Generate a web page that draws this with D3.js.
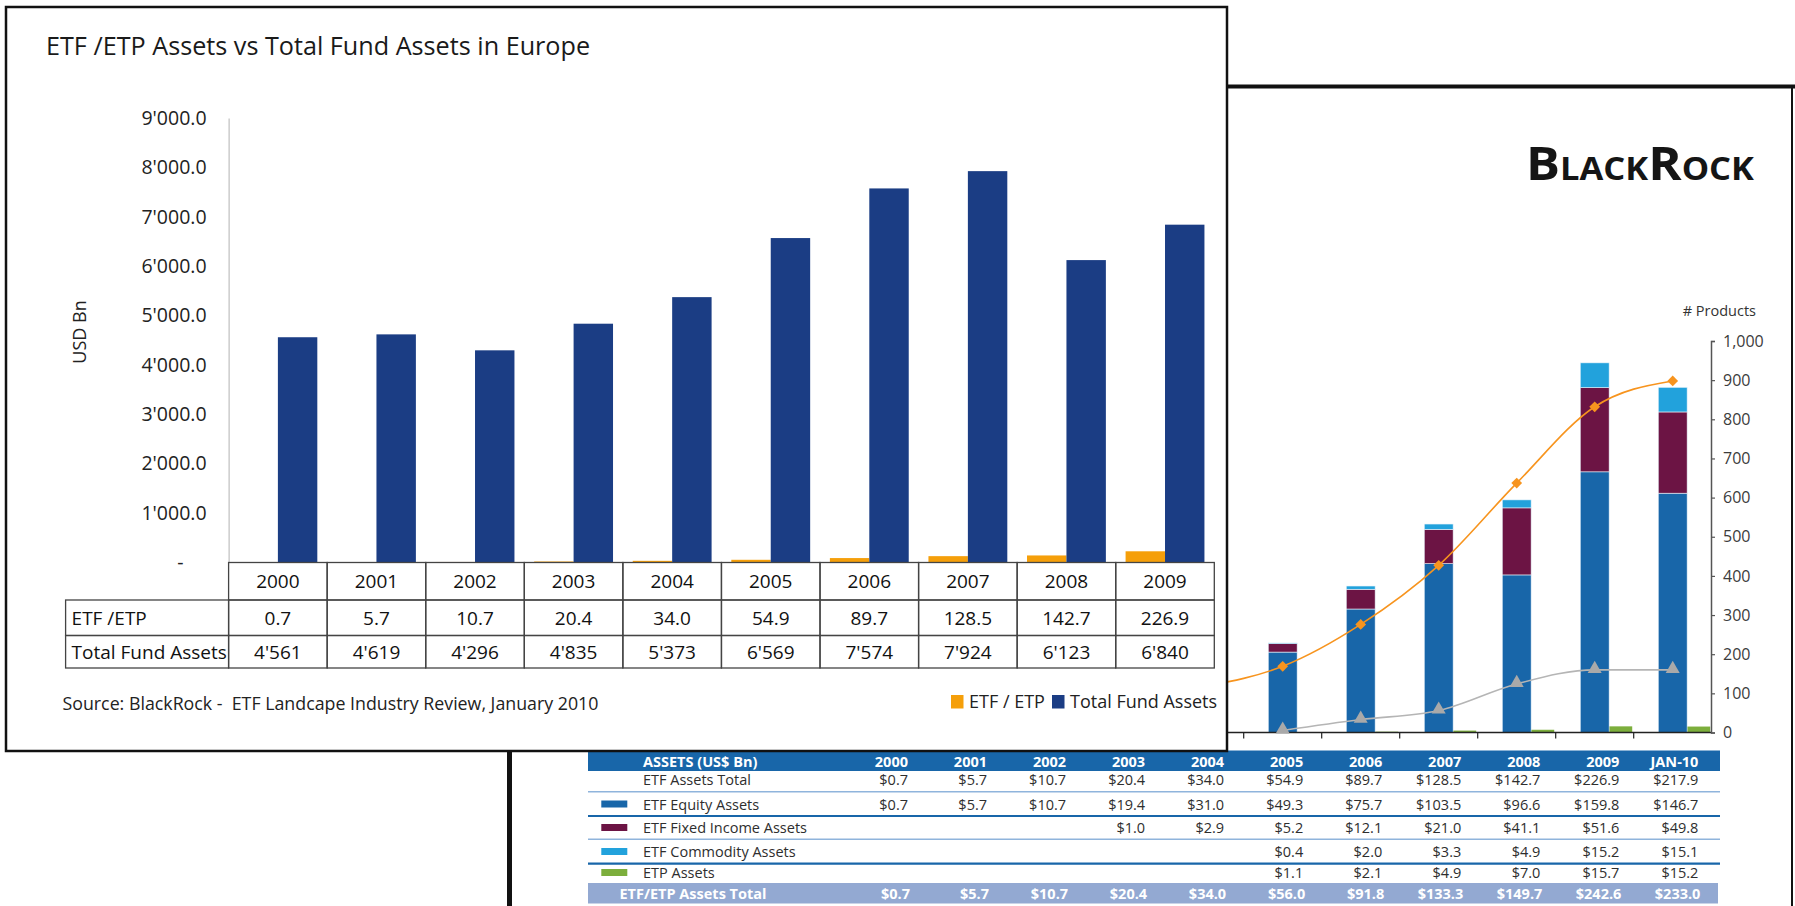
<!DOCTYPE html>
<html>
<head>
<meta charset="utf-8">
<script src="https://cdn.jsdelivr.net/npm/d3@7"></script>
<style>
  html, body { margin: 0; padding: 0; background: #fff; }
  svg { display: block; font-family: "Open Sans", "Noto Sans", sans-serif; }
</style>
</head>
<body>
<div id="chart"></div>
<script>
// ---- front chart: Europe ----
var years = ["2000", "2001", "2002", "2003", "2004", "2005", "2006", "2007", "2008", "2009"];
var etfEtpAssets = [0.7, 5.7, 10.7, 20.4, 34.0, 54.9, 89.7, 128.5, 142.7, 226.9];
var totalFundAssets = [4561, 4619, 4296, 4835, 5373, 6569, 7574, 7924, 6123, 6840];
var usdTicks = [0, 1000, 2000, 3000, 4000, 5000, 6000, 7000, 8000, 9000];

// ---- BlackRock page behind it ----
var brPeriods = ["2000", "2001", "2002", "2003", "2004", "2005", "2006", "2007", "2008", "2009", "JAN-10"];
var brEtfTotal = [0.7, 5.7, 10.7, 20.4, 34.0, 54.9, 89.7, 128.5, 142.7, 226.9, 217.9];
var brEquity = [0.7, 5.7, 10.7, 19.4, 31.0, 49.3, 75.7, 103.5, 96.6, 159.8, 146.7];
var brFixedIncome = [null, null, null, 1.0, 2.9, 5.2, 12.1, 21.0, 41.1, 51.6, 49.8];
var brCommodity = [null, null, null, null, null, 0.4, 2.0, 3.3, 4.9, 15.2, 15.1];
var brEtp = [null, null, null, null, null, 1.1, 2.1, 4.9, 7.0, 15.7, 15.2];
var brAllTotal = [0.7, 5.7, 10.7, 20.4, 34.0, 56.0, 91.8, 133.3, 149.7, 242.6, 233.0];
// # products lines (2000-2004 are hidden under the front chart, rough guesses)
var brEtfCount = [10, 40, 70, 95, 118, 169, 276, 427, 637, 832, 898];
var brEtpCount = [null, null, null, null, null, 5, 33, 56, 124, 160, 160];
var productTicks = [0, 100, 200, 300, 400, 500, 600, 700, 800, 900, 1000];

var width = 1795, height = 906;

var svg = d3.select("#chart")
    .append("svg")
    .attr("width", width)
    .attr("height", height);

var quoteLocale = d3.formatLocale({decimal: ".", thousands: "'", grouping: [3], currency: ["", ""]});

// =========== background page ===========
var back = svg.append("g").attr("class", "back");

// page frame
back.append("line").attr("x1", 507).attr("x2", width).attr("y1", 86.5).attr("y2", 86.5)
    .attr("stroke", "#111").attr("stroke-width", 4);
back.append("line").attr("x1", 1792).attr("x2", 1792).attr("y1", 85).attr("y2", height)
    .attr("stroke", "#111").attr("stroke-width", 2);
back.append("line").attr("x1", 509.5).attr("x2", 509.5).attr("y1", 85).attr("y2", height)
    .attr("stroke", "#111").attr("stroke-width", 5);

// logo
var logo = back.append("text")
    .attr("fill", "#151515")
    .style("font-weight", 700);
[["B", 47], ["LACK", 32], ["R", 47], ["OCK", 32]].forEach(function (p) {
    logo.append("tspan").style("font-size", p[1] + "px").text(p[0]);
});
var logoW = logo.node().getComputedTextLength();
logo.attr("transform", "translate(1526,180) scale(" + (228 / logoW) + ",1)");

var brColors = {equity: "#1866a9", fixed: "#6c1444", commodity: "#22a2dc", etp: "#7cae3c"};

var xb = d3.scaleBand().domain(brPeriods).range([853.7, 1711.7]);
var yAssets = d3.scaleLinear().domain([0, 240]).range([732.5, 341]);
var yProducts = d3.scaleLinear().domain([0, 1000]).range([732.5, 341]);
var barW = xb.bandwidth() * 0.37;
var mid = function (c) { return xb(c) + xb.bandwidth() / 2; };

var stackRows = brPeriods.map(function (c, i) {
    return {period: c, equity: brEquity[i] || 0, fixed: brFixedIncome[i] || 0, commodity: brCommodity[i] || 0};
});
var stacked = d3.stack().keys(["equity", "fixed", "commodity"])(stackRows);

// ETP bars sit next to the stack (they follow the products axis in the original)
back.append("g").selectAll("rect")
    .data(brPeriods.map(function (c, i) { return {period: c, v: brEtp[i] || 0}; }))
    .enter().append("rect")
    .attr("x", function (d) { return mid(d.period) + barW * 0.3; })
    .attr("width", barW)
    .attr("y", function (d) { return yProducts(d.v); })
    .attr("height", function (d) { return yProducts(0) - yProducts(d.v); })
    .attr("fill", brColors.etp);

back.append("g").selectAll("g")
    .data(stacked)
    .enter().append("g")
    .attr("fill", function (d) { return brColors[d.key]; })
    .selectAll("rect")
    .data(function (d) { return d; })
    .enter().append("rect")
    .attr("x", function (d) { return mid(d.data.period) - barW / 2; })
    .attr("width", barW)
    .attr("y", function (d) { return yAssets(d[1]); })
    .attr("height", function (d) { return yAssets(d[0]) - yAssets(d[1]); })
    .attr("stroke", "#eaf3fa")
    .attr("stroke-width", 0.6);

// x baseline with ticks between periods
back.append("line")
    .attr("x1", 560).attr("x2", 1711.7)
    .attr("y1", yAssets(0)).attr("y2", yAssets(0))
    .attr("stroke", "#222").attr("stroke-width", 1.5);
back.append("g").selectAll("line")
    .data(brPeriods)
    .enter().append("line")
    .attr("x1", function (d) { return xb(d); })
    .attr("x2", function (d) { return xb(d); })
    .attr("y1", yAssets(0)).attr("y2", yAssets(0) + 6)
    .attr("stroke", "#222").attr("stroke-width", 1.2);

// product count lines
var productLine = d3.line()
    .defined(function (d) { return d.v != null; })
    .x(function (d) { return mid(d.period); })
    .y(function (d) { return yProducts(d.v); })
    .curve(d3.curveMonotoneX);

var etfPts = brPeriods.map(function (c, i) { return {period: c, v: brEtfCount[i]}; });
var etpPts = brPeriods.map(function (c, i) { return {period: c, v: brEtpCount[i]}; });

back.append("path").datum(etpPts)
    .attr("d", productLine)
    .attr("fill", "none").attr("stroke", "#b5b5b5").attr("stroke-width", 1.6);
back.append("path").datum(etfPts)
    .attr("d", productLine)
    .attr("fill", "none").attr("stroke", "#f7941e").attr("stroke-width", 1.6);

back.append("g").selectAll("path")
    .data(etpPts.filter(function (d) { return d.v != null; }))
    .enter().append("path")
    .attr("d", d3.symbol().type(d3.symbolTriangle).size(85))
    .attr("transform", function (d) { return "translate(" + mid(d.period) + "," + (yProducts(d.v) - 1) + ")"; })
    .attr("fill", "#a9a9a9");
back.append("g").selectAll("path")
    .data(etfPts)
    .enter().append("path")
    .attr("d", d3.symbol().type(d3.symbolSquare).size(58))
    .attr("transform", function (d) { return "translate(" + mid(d.period) + "," + yProducts(d.v) + ") rotate(45)"; })
    .attr("fill", "#f7941e");

// right axis
var rightAxis = back.append("g")
    .attr("transform", "translate(1711,0)")
    .call(d3.axisRight(yProducts).tickValues(productTicks).tickSize(4).tickSizeOuter(4).tickPadding(8).tickFormat(d3.format(",")));
rightAxis.select(".domain").attr("stroke", "#555").attr("stroke-width", 1.5);
rightAxis.selectAll(".tick line").attr("stroke", "#555").attr("stroke-width", 1.2);
rightAxis.selectAll(".tick text")
    .attr("fill", "#3c3c3c")
    .style("font-size", "16px")
    .style("font-family", "\"Open Sans\", sans-serif");

back.append("text")
    .attr("x", 1756).attr("y", 316)
    .attr("text-anchor", "end")
    .attr("fill", "#333")
    .style("font-size", "14.5px")
    .text("# Products");

// data table under the chart
var xt = d3.scalePoint().domain(brPeriods).range([908, 1698.4]);
var tableLeft = 588, tableRight = 1720;
var fmtUsd = function (v) { return v == null ? "" : "$" + d3.format(".1f")(v); };

back.append("rect")
    .attr("x", tableLeft).attr("y", 750.5)
    .attr("width", tableRight - tableLeft).attr("height", 20.5)
    .attr("fill", "#1866a9");
back.append("text")
    .attr("x", 643).attr("y", 766.5)
    .attr("fill", "#fff").style("font-size", "14.5px").style("font-weight", 700)
    .text("ASSETS (US$ Bn)");
back.append("g").selectAll("text")
    .data(brPeriods)
    .enter().append("text")
    .attr("x", function (d) { return xt(d); })
    .attr("y", 766.5)
    .attr("text-anchor", "end")
    .attr("fill", "#fff").style("font-size", "14.5px").style("font-weight", 700)
    .text(function (d) { return d; });

var brRows = [
    {label: "ETF Assets Total", values: brEtfTotal, key: null},
    {label: "ETF Equity Assets", values: brEquity, key: "equity"},
    {label: "ETF Fixed Income Assets", values: brFixedIncome, key: "fixed"},
    {label: "ETF Commodity Assets", values: brCommodity, key: "commodity"},
    {label: "ETP Assets", values: brEtp, key: "etp"}
];
var rowBase = [785, 809.5, 833, 857, 878];
var sepLines = [{y: 791.7, c: "#8fb4dc", w: 1.6}, {y: 816, c: "#1866a9", w: 2.2},
                {y: 839.3, c: "#8fb4dc", w: 1.6}, {y: 863.6, c: "#1866a9", w: 2.2}];

back.append("g").selectAll("line")
    .data(sepLines)
    .enter().append("line")
    .attr("x1", tableLeft).attr("x2", tableRight)
    .attr("y1", function (d) { return d.y; }).attr("y2", function (d) { return d.y; })
    .attr("stroke", function (d) { return d.c; })
    .attr("stroke-width", function (d) { return d.w; });

var rowG = back.append("g").selectAll("g")
    .data(brRows)
    .enter().append("g")
    .attr("transform", function (d, i) { return "translate(0," + rowBase[i] + ")"; });

rowG.filter(function (d) { return d.key; })
    .append("rect")
    .attr("x", 601.3).attr("y", -9).attr("width", 26).attr("height", 7)
    .attr("fill", function (d) { return brColors[d.key]; });

rowG.append("text")
    .attr("x", 643)
    .attr("fill", "#2e2e2e").style("font-size", "14.5px")
    .text(function (d) { return d.label; });

rowG.selectAll(".val")
    .data(function (d) { return d.values.map(function (v, i) { return {period: brPeriods[i], v: v}; }); })
    .enter().append("text")
    .attr("class", "val")
    .attr("x", function (d) { return xt(d.period); })
    .attr("text-anchor", "end")
    .attr("fill", "#2e2e2e").style("font-size", "14.5px")
    .text(function (d) { return fmtUsd(d.v); });

back.append("rect")
    .attr("x", tableLeft).attr("y", 883)
    .attr("width", tableRight - 2 - tableLeft).attr("height", 20.5)
    .attr("fill", "#93a9d2");
back.append("text")
    .attr("x", 619.5).attr("y", 898.5)
    .attr("fill", "#fff").style("font-size", "14.5px").style("font-weight", 700)
    .text("ETF/ETP Assets Total");
back.append("g").selectAll("text")
    .data(brAllTotal)
    .enter().append("text")
    .attr("x", function (d, i) { return xt(brPeriods[i]) + 2; })
    .attr("y", 898.5)
    .attr("text-anchor", "end")
    .attr("fill", "#fff").style("font-size", "14.5px").style("font-weight", 700)
    .text(function (d) { return fmtUsd(d); });

// =========== front chart ===========
var front = svg.append("g").attr("class", "front");

front.append("rect")
    .attr("x", 6).attr("y", 7)
    .attr("width", 1221).attr("height", 744)
    .attr("fill", "#fff")
    .attr("stroke", "#111").attr("stroke-width", 2.5);

front.append("text")
    .attr("x", 46).attr("y", 54.5)
    .attr("fill", "#1a1a1a")
    .style("font-size", "25.2px")
    .text("ETF /ETP Assets vs Total Fund Assets in Europe");

var plotL = 228.6, plotR = 1214.3;
var x0 = d3.scaleBand().domain(years).range([plotL, plotR]);
var x1 = d3.scaleBand().domain(["etf", "total"]).range([0, x0.bandwidth()]).paddingOuter(0.25);
var y = d3.scaleLinear().domain([0, 9000]).range([562.5, 118]);

var yAxis = front.append("g")
    .attr("transform", "translate(" + plotL + ",0)")
    .call(d3.axisLeft(y).tickValues(usdTicks).tickSize(0).tickSizeOuter(0).tickPadding(22)
        .tickFormat(function (d) { return d === 0 ? "-" : quoteLocale.format(",.1f")(d); }));
yAxis.select(".domain").attr("stroke", "#b3b3b3").attr("stroke-width", 1);
yAxis.selectAll(".tick text")
    .attr("fill", "#222")
    .style("font-size", "19.5px")
    .style("font-family", "\"Open Sans\", sans-serif");
yAxis.selectAll(".tick text").filter(function (d) { return d === 0; }).attr("dx", -23);

front.append("text")
    .attr("transform", "translate(86,332) rotate(-90)")
    .attr("text-anchor", "middle")
    .attr("fill", "#222")
    .style("font-size", "18px")
    .text("USD Bn");

var frontColors = {etf: "#f59f0a", total: "#1b3d84"};
var barRows = years.map(function (yr, i) { return {year: yr, etf: etfEtpAssets[i], total: totalFundAssets[i]}; });

front.append("g").selectAll("g")
    .data(barRows)
    .enter().append("g")
    .attr("transform", function (d) { return "translate(" + x0(d.year) + ",0)"; })
    .selectAll("rect")
    .data(function (d) { return ["etf", "total"].map(function (k) { return {key: k, value: d[k]}; }); })
    .enter().append("rect")
    .attr("x", function (d) { return x1(d.key); })
    .attr("width", x1.bandwidth())
    .attr("y", function (d) { return y(d.value); })
    .attr("height", function (d) { return y(0) - y(d.value); })
    .attr("fill", function (d) { return frontColors[d.key]; });

// data table
var tableRows = [
    {label: null, cells: years},
    {label: "ETF /ETP", cells: etfEtpAssets.map(d3.format(".1f"))},
    {label: "Total Fund Assets", cells: totalFundAssets.map(quoteLocale.format(",d"))}
];
var rowEdges = [562.5, 600, 635.5, 668];
var labelLeft = 65.6;

var tRow = front.append("g").selectAll("g")
    .data(tableRows)
    .enter().append("g")
    .attr("transform", function (d, i) { return "translate(0," + rowEdges[i] + ")"; });

tRow.each(function (d, i) {
    var g = d3.select(this);
    var h = rowEdges[i + 1] - rowEdges[i];
    if (d.label) {
        g.append("rect")
            .attr("x", labelLeft).attr("width", plotL - labelLeft).attr("height", h)
            .attr("fill", "none").attr("stroke", "#444").attr("stroke-width", 1.3);
        g.append("text")
            .attr("x", labelLeft + 6).attr("y", h / 2).attr("dy", "0.38em")
            .attr("fill", "#111").style("font-size", "19px")
            .text(d.label);
    }
    g.selectAll(".cell")
        .data(d.cells)
        .enter().append("rect")
        .attr("class", "cell")
        .attr("x", function (c, j) { return x0(years[j]); })
        .attr("width", x0.bandwidth()).attr("height", h)
        .attr("fill", "none").attr("stroke", "#444").attr("stroke-width", 1.3);
    g.selectAll(".txt")
        .data(d.cells)
        .enter().append("text")
        .attr("class", "txt")
        .attr("x", function (c, j) { return x0(years[j]) + x0.bandwidth() / 2; })
        .attr("y", h / 2).attr("dy", "0.38em")
        .attr("text-anchor", "middle")
        .attr("fill", "#111").style("font-size", "19px")
        .text(function (c) { return c; });
});

front.append("text")
    .attr("x", 62.5).attr("y", 710)
    .attr("fill", "#222")
    .style("font-size", "17.8px")
    .style("white-space", "pre")
    .text("Source: BlackRock -  ETF Landcape Industry Review, January 2010");

// legend
var legend = [{key: "etf", label: "ETF / ETP", x: 951}, {key: "total", label: "Total Fund Assets", x: 1052}];
var lg = front.append("g").selectAll("g")
    .data(legend)
    .enter().append("g")
    .attr("transform", function (d) { return "translate(" + d.x + ",695)"; });
lg.append("rect")
    .attr("width", 12.5).attr("height", 13.5)
    .attr("fill", function (d) { return frontColors[d.key]; });
lg.append("text")
    .attr("x", 18).attr("y", 13)
    .attr("fill", "#222")
    .style("font-size", "18px")
    .text(function (d) { return d.label; });
</script>
</body>
</html>
